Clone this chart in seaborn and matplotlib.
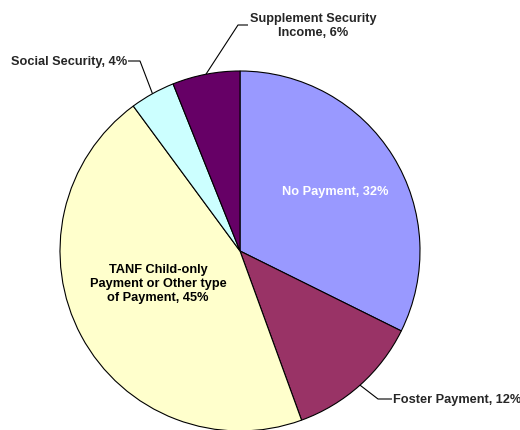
import numpy as np
import matplotlib
matplotlib.use("Agg")
import matplotlib.pyplot as plt
import seaborn as sns

# Payment categories, clockwise from 12 o'clock
categories = ["No Payment", "Foster Payment",
              "TANF Child-only\nPayment or Other type\nof Payment",
              "Social Security", "Supplement Security\nIncome"]
shares = [32, 12, 45, 4, 6]
colors = ["#9999FF", "#993366", "#FFFFCC", "#CCFFFF", "#660066"]

sns.set_theme(style="white")
plt.rcParams["font.family"] = ["Liberation Sans", "DejaVu Sans"]

W, H = 520, 431
fig = plt.figure(figsize=(W / 100, H / 100), dpi=100)
cx, cy, R = 240, 252, 180  # pie centre and radius in pixels
ax = fig.add_axes([(cx - R) / W, (H - cy - R) / H, 2 * R / W, 2 * R / H])

wedges, _ = ax.pie(shares, colors=colors, startangle=90, counterclock=False,
                   radius=1.0, wedgeprops=dict(edgecolor="black", linewidth=0.8))
ax.set_xlim(-1, 1)
ax.set_ylim(-1, 1)
ax.set_aspect("equal")
ax.axis("off")


def px(x, y):
    """Pixel position -> data coordinates of the pie axes."""
    return (x - cx) / R, (cy - y) / R


def mid_point(w, r=1.0):
    a = np.deg2rad((w.theta1 + w.theta2) / 2)
    return r * np.cos(a), r * np.sin(a)


labels = [f"{c}, {s}%" for c, s in zip(categories, shares)]
fs = 9.2
bold = dict(fontsize=fs, fontweight="bold")

# Labels inside the slices
ax.text(*px(335, 192), labels[0], color="white", ha="center", va="center", **bold)
ax.text(*px(158, 284), labels[2], color="black", ha="center", va="center",
        linespacing=1.2, **bold)

# Outside labels with elbow leader lines
line_kw = dict(color="black", linewidth=0.8, solid_capstyle="butt")

# Foster Payment
p0 = mid_point(wedges[1])
e = px(378, 400)
t = px(392, 400)
ax.plot([p0[0], e[0], t[0]], [p0[1], e[1], t[1]], clip_on=False, **line_kw)
ax.text(t[0] + 1 / R, t[1], labels[1], ha="left", va="center", **bold)

# Social Security
p0 = mid_point(wedges[3])
e = px(140, 62)
t = px(128, 62)
ax.plot([p0[0], e[0], t[0]], [p0[1], e[1], t[1]], clip_on=False, **line_kw)
ax.text(t[0] - 1 / R, t[1], labels[3], ha="right", va="center", **bold)

# Supplement Security Income
p0 = mid_point(wedges[4])
e = px(238, 26)
t = px(248, 26)
ax.plot([p0[0], e[0], t[0]], [p0[1], e[1], t[1]], clip_on=False, **line_kw)
ax.text(*px(313, 26), labels[4], ha="center", va="center",
        linespacing=1.2, **bold)

fig.savefig("out.png", dpi=100)
